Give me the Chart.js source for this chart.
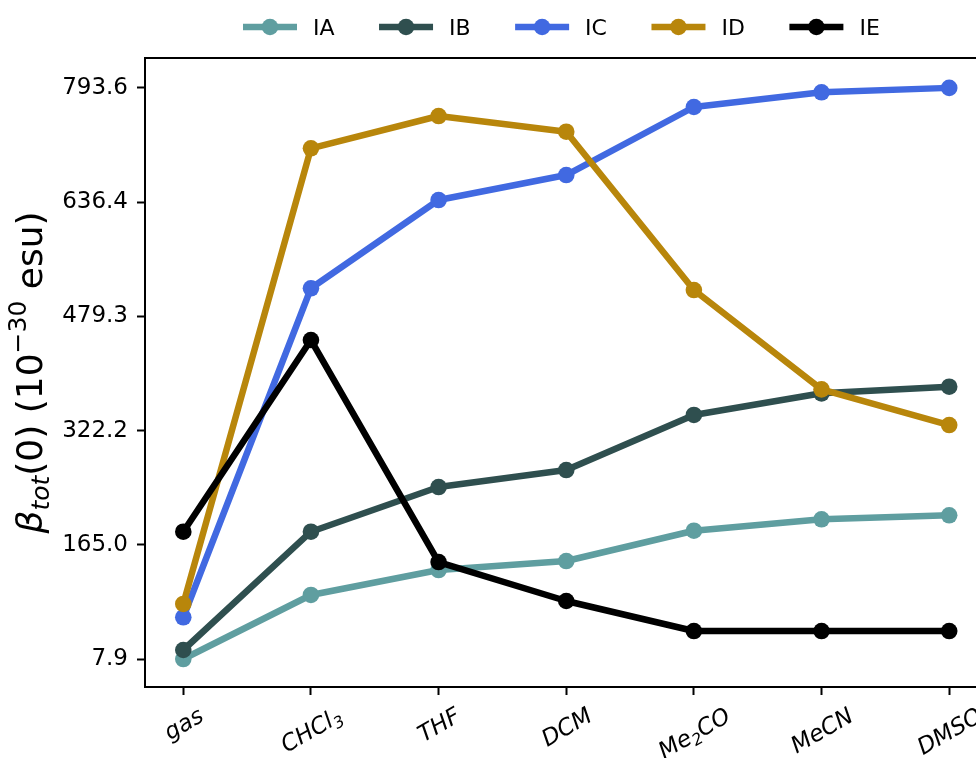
<!DOCTYPE html>
<html><head><meta charset="utf-8">
<script src="https://cdn.jsdelivr.net/npm/chart.js@4.4.0/dist/chart.umd.min.js"></script>
<style>html,body{margin:0;padding:0;background:#fff;}canvas{display:block;}</style>
</head><body>
<canvas id="c" width="976" height="758"></canvas>
<script>
// ---- data ----
const categories = ['gas', 'CHCl₃', 'THF', 'DCM', 'Me₂CO', 'MeCN', 'DMSO'];
const seriesNames = ['IA', 'IB', 'IC', 'ID', 'IE'];
const IA = [7.9, 96.0, 130.3, 142.7, 184.4, 200.1, 205.6];
const IB = [20.3, 183.0, 244.5, 267.9, 343.6, 373.4, 382.5];
const IC = [65.3, 517.9, 639.3, 673.7, 767.3, 787.5, 793.6];
const ID = [83.6, 710.5, 754.9, 733.3, 515.5, 378.9, 329.8];
const IE = [183.0, 446.7, 141.3, 87.7, 46.4, 46.4, 46.4];
const yTickValues = [7.9, 165.0, 322.2, 479.3, 636.4, 793.6];
const yTickLabels = ['7.9', '165.0', '322.2', '479.3', '636.4', '793.6'];
const seriesColors = ['#5F9EA0', '#2F4F4F', '#4169E1', '#B8860B', '#000000'];
const yLimits = [-30.6, 834.7];
const xLimits = [-0.3, 6.21];

// ---- styling ----
const FONT = '"DejaVu Sans", "Liberation Sans", sans-serif';
const LINE_W = 6.5, PT_R = 8.3, TICK_FS = 23;
const allSeries = [IA, IB, IC, ID, IE];

const datasets = allSeries.map((vals, k) => ({
  label: seriesNames[k],
  data: vals.map((v, i) => ({x: i, y: v})),
  borderColor: seriesColors[k],
  backgroundColor: seriesColors[k],
  pointBackgroundColor: seriesColors[k],
  pointBorderWidth: 0,
  pointRadius: PT_R,
  pointHoverRadius: PT_R,
  borderWidth: LINE_W,
  borderJoinStyle: 'round',
  tension: 0,
  fill: false,
  order: allSeries.length - 1 - k
}));

const SUB = {'₀':'0','₁':'1','₂':'2','₃':'3','₄':'4','₅':'5','₆':'6','₇':'7','₈':'8','₉':'9'};
function richPieces(label, size) {
  const out = [];
  for (const ch of label) {
    const sub = SUB[ch] !== undefined;
    const t = sub ? SUB[ch] : ch;
    const last = out[out.length - 1];
    if (last && last.sub === sub) last.t += t;
    else out.push({t, sub});
  }
  out.forEach(p => {
    p.f = 'italic ' + (p.sub ? Math.round(size * 0.7) : size) + 'px ' + FONT;
    p.dy = p.sub ? size * 0.2 : 0;
  });
  return out;
}

const decor = {
  id: 'decor',
  afterDraw(chart) {
    const ctx = chart.ctx, ca = chart.chartArea;
    ctx.save();
    // top spine
    ctx.strokeStyle = '#000'; ctx.lineWidth = 2;
    ctx.beginPath(); ctx.moveTo(ca.left - 1, ca.top); ctx.lineTo(ca.right, ca.top); ctx.stroke();

    // x tick labels (rotated 30°, centred under tick)
    const xs = chart.scales.x;
    const a = Math.PI / 6, fs = TICK_FS;
    ctx.fillStyle = '#000';
    categories.forEach((c, i) => {
      const px = xs.getPixelForValue(i);
      const pieces = richPieces(c, fs);
      let w = 0;
      pieces.forEach(p => { ctx.font = p.f; p.w = ctx.measureText(p.t).width; w += p.w; });
      const h = fs;
      const H = w * Math.sin(a) + h * Math.cos(a);
      const cy = ca.bottom + 8 + 8 + H / 2;
      ctx.save(); ctx.translate(px, cy); ctx.rotate(-a);
      ctx.textAlign = 'left'; ctx.textBaseline = 'alphabetic';
      let x = -w / 2;
      const base = fs * 0.36;
      pieces.forEach(p => { ctx.font = p.f; ctx.fillText(p.t, x, base + p.dy); x += p.w; });
      ctx.restore();
    });

    // y axis title
    const pieces = [
      {t: 'β', f: 'italic 36px ' + FONT, dy: 0},
      {t: 'tot', f: 'italic 25px ' + FONT, dy: 7},
      {t: '(0) (10', f: '36px ' + FONT, dy: 0},
      {t: '−30', f: '25px ' + FONT, dy: -16},
      {t: ' esu)', f: '36px ' + FONT, dy: 0}
    ];
    let W = 0;
    pieces.forEach(p => { ctx.font = p.f; p.w = ctx.measureText(p.t).width; W += p.w; });
    ctx.save();
    ctx.translate(42, (ca.top + ca.bottom) / 2);
    ctx.rotate(-Math.PI / 2);
    ctx.textAlign = 'left'; ctx.textBaseline = 'alphabetic';
    let x = -W / 2;
    pieces.forEach(p => { ctx.font = p.f; ctx.fillText(p.t, x, p.dy); x += p.w; });
    ctx.restore();

    // legend
    let lx = 243; const ly = 27;
    ctx.font = '22px ' + FONT;
    chart.data.datasets.forEach((ds, k) => {
      ctx.strokeStyle = ds.borderColor; ctx.lineWidth = LINE_W; ctx.lineCap = 'butt';
      ctx.beginPath(); ctx.moveTo(lx, ly); ctx.lineTo(lx + 54, ly); ctx.stroke();
      ctx.fillStyle = ds.borderColor;
      ctx.beginPath(); ctx.arc(lx + 27, ly, PT_R, 0, Math.PI * 2); ctx.fill();
      ctx.fillStyle = '#000'; ctx.textAlign = 'left'; ctx.textBaseline = 'alphabetic';
      ctx.fillText(ds.label, lx + 70, ly + 8);
      lx += 70 + ctx.measureText(ds.label).width + 44.5;
    });
    ctx.restore();
  }
};

new Chart(document.getElementById('c'), {
  type: 'line',
  data: {datasets},
  options: {
    responsive: false,
    animation: false,
    devicePixelRatio: 1,
    layout: {autoPadding: false, padding: {top: 58, left: 0, right: 0, bottom: 0}},
    plugins: {legend: {display: false}, tooltip: {enabled: false}},
    scales: {
      x: {
        type: 'linear', min: xLimits[0], max: xLimits[1],
        afterBuildTicks: s => { s.ticks = categories.map((c, i) => ({value: i})); },
        afterFit: s => { s.height = 71; },
        ticks: {display: false},
        grid: {drawOnChartArea: false, drawTicks: true, tickLength: 8, tickWidth: 2, tickColor: '#000'},
        border: {display: true, color: '#000', width: 2}
      },
      y: {
        type: 'linear', min: yLimits[0], max: yLimits[1],
        afterBuildTicks: s => { s.ticks = yTickValues.map(v => ({value: v})); },
        afterFit: s => { s.width = 145; },
        ticks: {callback: (v, i) => yTickLabels[i], color: '#000', font: {family: FONT, size: TICK_FS}, padding: 9},
        grid: {drawOnChartArea: false, drawTicks: true, tickLength: 8, tickWidth: 2, tickColor: '#000'},
        border: {display: true, color: '#000', width: 2}
      }
    }
  },
  plugins: [decor]
});
</script>
</body></html>
